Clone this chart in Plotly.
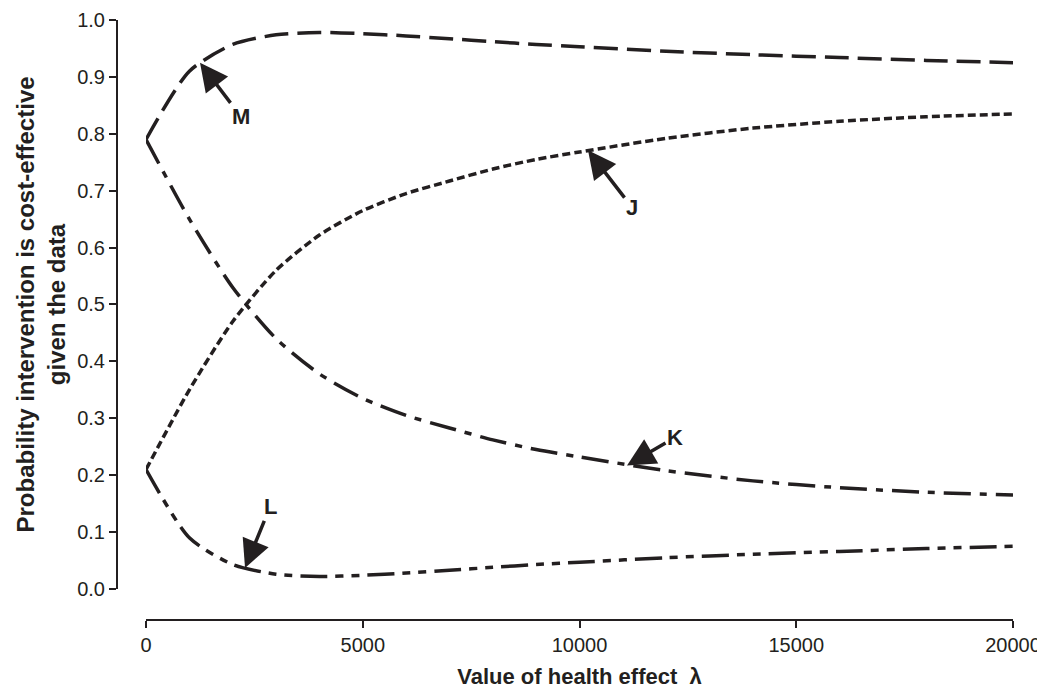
import plotly.graph_objects as go

lam = [0, 1000, 2000, 3000, 4000, 5000, 6000, 7000, 8000, 9000, 10000, 12000, 14000, 16000, 18000, 20000]
J = [0.21, 0.35, 0.47, 0.56, 0.622, 0.665, 0.695, 0.717, 0.738, 0.755, 0.768, 0.792, 0.81, 0.822, 0.83, 0.835]
K = [0.79, 0.65, 0.53, 0.44, 0.378, 0.335, 0.305, 0.283, 0.262, 0.245, 0.232, 0.208, 0.19, 0.178, 0.17, 0.165]
L = [0.21, 0.09, 0.043, 0.026, 0.022, 0.024, 0.028, 0.033, 0.038, 0.043, 0.047, 0.055, 0.061, 0.066, 0.071, 0.075]
M = [0.79, 0.91, 0.957, 0.974, 0.978, 0.976, 0.972, 0.967, 0.962, 0.957, 0.953, 0.945, 0.939, 0.934, 0.929, 0.925]

labels = ["M", "J", "K", "L"]
label_x = [1245, 10196, 11096, 2284]
label_y = [0.925, 0.771, 0.217, 0.037]
label_ax = [41, 44, 48, 25]
label_ay = [54, 57, -28, -61]

INK = "#231f20"
FONT = "Liberation Sans, Arial, Helvetica, sans-serif"
fig = go.Figure()
series = [
    (M, "24px,9px"),
    (J, "8px,4px"),
    (K, "27px,9px,7px,9px"),
    (L, "27px,8px,8px,8px,8px,8px"),
]
for ys, dash in series:
    fig.add_trace(go.Scatter(x=lam, y=ys, mode="lines",
                             line=dict(color=INK, width=3.5, dash=dash, shape="spline", smoothing=0.7),
                             showlegend=False, hoverinfo="skip"))

for t, x, y, ax, ay in zip(labels, label_x, label_y, label_ax, label_ay):
    fig.add_annotation(x=x, y=y, ax=ax, ay=ay, text="<b>%s</b>" % t, showarrow=True,
                       arrowhead=2, arrowsize=1.6, arrowwidth=3.5, arrowcolor=INK,
                       font=dict(size=22, color=INK, family=FONT))

fig.update_layout(
    width=1037, height=681,
    margin=dict(l=109, r=32, t=12, b=69, autoexpand=False),
    plot_bgcolor="white", paper_bgcolor="white",
    font=dict(family=FONT, color=INK),
    xaxis=dict(domain=[0.0324, 1], anchor="free", position=0, range=[0, 20000], automargin=False,
               tickvals=[0, 5000, 10000, 15000, 20000], tickformat="d", ticklabeloverflow="allow",
               showline=True, linecolor=INK, linewidth=2, ticks="outside", ticklen=7, tickwidth=1.5, tickcolor=INK,
               showgrid=False, zeroline=False, tickfont=dict(size=20),
               title=dict(text="<b>Value of health effect\u00a0\u00a0λ</b>", font=dict(size=22), standoff=18)),
    yaxis=dict(domain=[0.0517, 1], anchor="free", position=0, range=[0, 1], automargin=False,
               tickvals=[i / 10 for i in range(11)], tickformat=".1f", ticklabeloverflow="allow",
               showline=True, linecolor=INK, linewidth=2, ticks="outside", ticklen=7, tickwidth=1.5, tickcolor=INK,
               showgrid=False, zeroline=False, tickfont=dict(size=20),
               title=dict(text="<b>Probability intervention is cost-effective<br>given the data</b>", font=dict(size=24), standoff=4)),
)
fig.write_html("out.html")
